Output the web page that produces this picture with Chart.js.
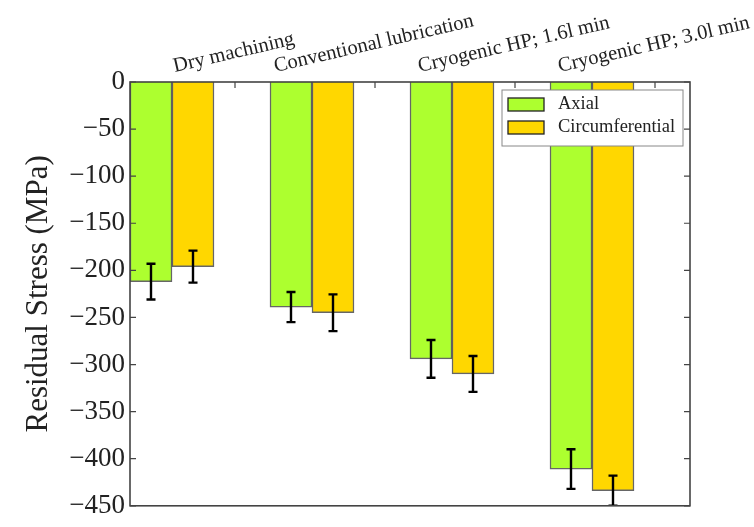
<!DOCTYPE html>
<html>
<head>
<meta charset="utf-8">
<script src="https://cdn.jsdelivr.net/npm/chart.js@4.4.0/dist/chart.umd.min.js"></script>
<style>
  body { margin: 0; background: #fff; }
  #wrap { width: 754px; height: 527px; }
</style>
</head>
<body>
<div id="wrap"><canvas id="stressChart"></canvas></div>
<script>
const categories = ['Dry machining', 'Conventional lubrication', 'Cryogenic HP; 1.6l min', 'Cryogenic HP; 3.0l min'];
const axial = [-212, -239, -294, -411];
const circumferential = [-196, -245, -310, -434];
const axialErr = [19, 16, 20, 21];
const circErr = [17, 19.5, 19, 16];

const serif = '"Liberation Serif", "DejaVu Serif", serif';
const textColor = '#222';
const labelShift = 0.45;   // category label position, right of the group centre (x units)
const labelAngle = 13 * Math.PI / 180;

// error bars, frame with inward ticks, rotated category labels and the boxed legend
const extras = {
  id: 'extras',
  afterDatasetsDraw(chart) {
    const {ctx, chartArea: a, scales: {y}} = chart;
    ctx.save();
    ctx.beginPath();
    ctx.rect(a.left, a.top, a.right - a.left, a.bottom - a.top);
    ctx.clip();
    ctx.strokeStyle = '#000';
    ctx.lineWidth = 2.4;
    [axialErr, circErr].forEach((errs, d) => {
      const meta = chart.getDatasetMeta(d);
      meta.data.forEach((bar, i) => {
        const v = chart.data.datasets[d].data[i].y;
        const top = y.getPixelForValue(v + errs[i]);
        const bot = y.getPixelForValue(v - errs[i]);
        ctx.beginPath();
        ctx.moveTo(bar.x, top); ctx.lineTo(bar.x, bot);
        ctx.moveTo(bar.x - 4.5, top); ctx.lineTo(bar.x + 4.5, top);
        ctx.moveTo(bar.x - 4.5, bot); ctx.lineTo(bar.x + 4.5, bot);
        ctx.stroke();
      });
    });
    ctx.restore();
  },
  afterDraw(chart) {
    const {ctx, chartArea: a, scales: {x, y}} = chart;
    ctx.save();

    // ticks
    ctx.strokeStyle = '#444';
    ctx.lineWidth = 1.2;
    ctx.beginPath();
    y.ticks.forEach(t => {
      const py = y.getPixelForValue(t.value);
      ctx.moveTo(a.left, py); ctx.lineTo(a.left + 6, py);
      ctx.moveTo(a.right, py); ctx.lineTo(a.right - 6, py);
    });
    categories.forEach((c, i) => {
      const px = x.getPixelForValue(i + labelShift);
      ctx.moveTo(px, a.top); ctx.lineTo(px, a.top + 6);
    });
    ctx.stroke();

    // frame
    ctx.lineWidth = 1.6;
    ctx.strokeRect(a.left, a.top, a.right - a.left, a.bottom - a.top);

    // category labels, centred on their tick
    ctx.font = '20.5px ' + serif;
    ctx.fillStyle = textColor;
    ctx.textAlign = 'left';
    ctx.textBaseline = 'alphabetic';
    categories.forEach((c, i) => {
      const px = x.getPixelForValue(i + labelShift);
      const w = ctx.measureText(c).width;
      ctx.save();
      ctx.translate(px - w * Math.cos(labelAngle) / 2, a.top - 10);
      ctx.rotate(-labelAngle);
      ctx.fillText(c, 0, 0);
      ctx.restore();
    });

    // legend
    const lx = a.right - 188, ly = a.top + 8;
    ctx.fillStyle = '#fff';
    ctx.fillRect(lx, ly, 181, 56);
    ctx.strokeStyle = '#888';
    ctx.lineWidth = 1;
    ctx.strokeRect(lx, ly, 181, 56);
    ctx.font = '18.5px ' + serif;
    ctx.textBaseline = 'middle';
    chart.data.datasets.forEach((ds, d) => {
      const cy = ly + 14.5 + d * 23;
      ctx.fillStyle = ds.backgroundColor;
      ctx.fillRect(lx + 6, cy - 6.5, 36, 13);
      ctx.strokeStyle = '#222';
      ctx.lineWidth = 1.3;
      ctx.strokeRect(lx + 6, cy - 6.5, 36, 13);
      ctx.fillStyle = textColor;
      ctx.fillText(ds.label, lx + 56, cy);
    });
    ctx.restore();
  }
};

new Chart(document.getElementById('stressChart'), {
  type: 'bar',
  data: {
    datasets: [{
      label: 'Axial',
      data: axial.map((v, i) => ({x: i, y: v})),
      backgroundColor: '#adff2f',
      borderColor: 'rgba(0,0,0,0.6)',
      borderWidth: 1.5,
      barThickness: 42,
    }, {
      label: 'Circumferential',
      data: circumferential.map((v, i) => ({x: i, y: v})),
      backgroundColor: '#ffd700',
      borderColor: 'rgba(0,0,0,0.6)',
      borderWidth: 1.5,
      barThickness: 42,
    }]
  },
  options: {
    responsive: true,
    maintainAspectRatio: false,
    animation: false,
    layout: {
      padding: {left: 0, right: 64, top: 0, bottom: 12}
    },
    plugins: {
      legend: {display: false},
      tooltip: {enabled: false},
    },
    scales: {
      x: {
        type: 'linear',
        position: 'top',
        min: -0.3,
        max: 3.7,
        offset: false,
        grid: {display: false, drawTicks: false},
        border: {display: false},
        ticks: {display: false},
        afterFit: s => { s.height = 82; },
      },
      y: {
        min: -450,
        max: 0,
        grid: {display: false, drawTicks: false},
        border: {display: false},
        ticks: {
          stepSize: 50,
          padding: 5,
          color: textColor,
          font: {family: serif, size: 27},
          callback: v => String(v).replace('-', '\u2212'),
        },
        title: {
          display: true,
          text: 'Residual Stress (MPa)',
          color: textColor,
          font: {family: serif, size: 31},
          padding: {top: 20},
        },
        afterFit: s => { s.width = 130; },
      }
    }
  },
  plugins: [extras]
});
</script>
</body>
</html>
